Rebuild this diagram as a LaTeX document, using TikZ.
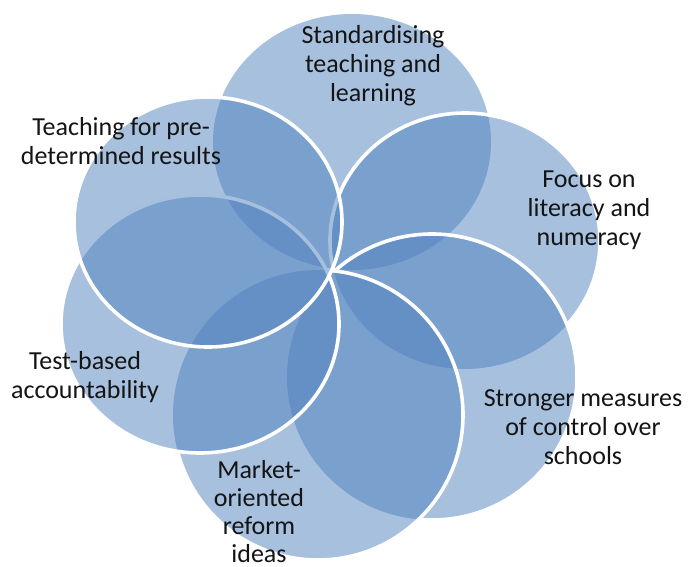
\documentclass[tikz,border=0pt]{standalone}
\usepackage{fontspec}
\setmainfont{Carlito}
\definecolor{petalblue}{HTML}{4F81BD}
\definecolor{labelink}{HTML}{141414}
\begin{document}
\begin{tikzpicture}[x=1pt,y=-1pt,
  petal/.style={fill=petalblue, fill opacity=0.5},
  rim/.style={draw=white, line width=3.6pt},
  lbl/.style={align=center, inner sep=0pt, text=labelink,
    font=\fontsize{26}{29}\selectfont}]
\useasboundingbox (0,0) rectangle (689,567);
% centres of the six circles
\coordinate (cTop) at (352,142);
\coordinate (cFoc) at (465,241);
\coordinate (cStr) at (432,377);
\coordinate (cMkt) at (318,415);
\coordinate (cTst) at (200,324);
\coordinate (cTch) at (208,222);
\def\ETop{(cTop) ellipse [x radius=139, y radius=128]}
\def\EFoc{(cFoc) ellipse [x radius=135, y radius=128]}
\def\EStr{(cStr) ellipse [x radius=145, y radius=143]}
\def\EMkt{(cMkt) ellipse [x radius=145, y radius=145]}
\def\ETst{(cTst) ellipse [x radius=139, y radius=129]}
\def\ETch{(cTch) ellipse [x radius=134, y radius=125]}
\def\Frame{(-20,-20) rectangle (710,590)}
% fills
\fill[petal] \ETop;
\fill[petal] \EFoc;
\fill[petal] \EStr;
\fill[petal] \EMkt;
\fill[petal] \ETst;
% outlines, hidden under later circles
\begin{scope}[even odd rule]
  \clip \Frame \EStr;
  \begin{scope}[even odd rule]
    \clip \Frame \EMkt;
    \begin{scope}[even odd rule]
      \clip \Frame \ETst;
      \draw[rim] \EFoc;
    \end{scope}
  \end{scope}
\end{scope}
\begin{scope}[even odd rule]
  \clip \Frame \EMkt;
  \begin{scope}[even odd rule]
    \clip \Frame \ETst;
    \draw[rim] \EStr;
  \end{scope}
\end{scope}
\begin{scope}[even odd rule]
  \clip \Frame \ETst;
  \draw[rim] \EMkt;
\end{scope}
\draw[rim] \ETst;
% last circle on top
\fill[petal] \ETch;
\draw[rim] \ETch;
% labels
\node[lbl] (tStd) at (373,66) {Standardising\\teaching and\\learning};
\node[lbl] (tTch) at (121,141) {Teaching for pre-\\determined results};
\node[lbl] (tFoc) at (589,210) {Focus on\\literacy and\\numeracy};
\node[lbl] (tTst) at (85,377) {Test-based\\accountability};
\node[lbl] (tStr) at (583,427) {Stronger measures\\of control over\\schools};
\node[lbl, font=\fontsize{26}{28}\selectfont] (tMkt) at (259,512) {Market-\\oriented\\reform\\ideas};
\end{tikzpicture}
\end{document}
